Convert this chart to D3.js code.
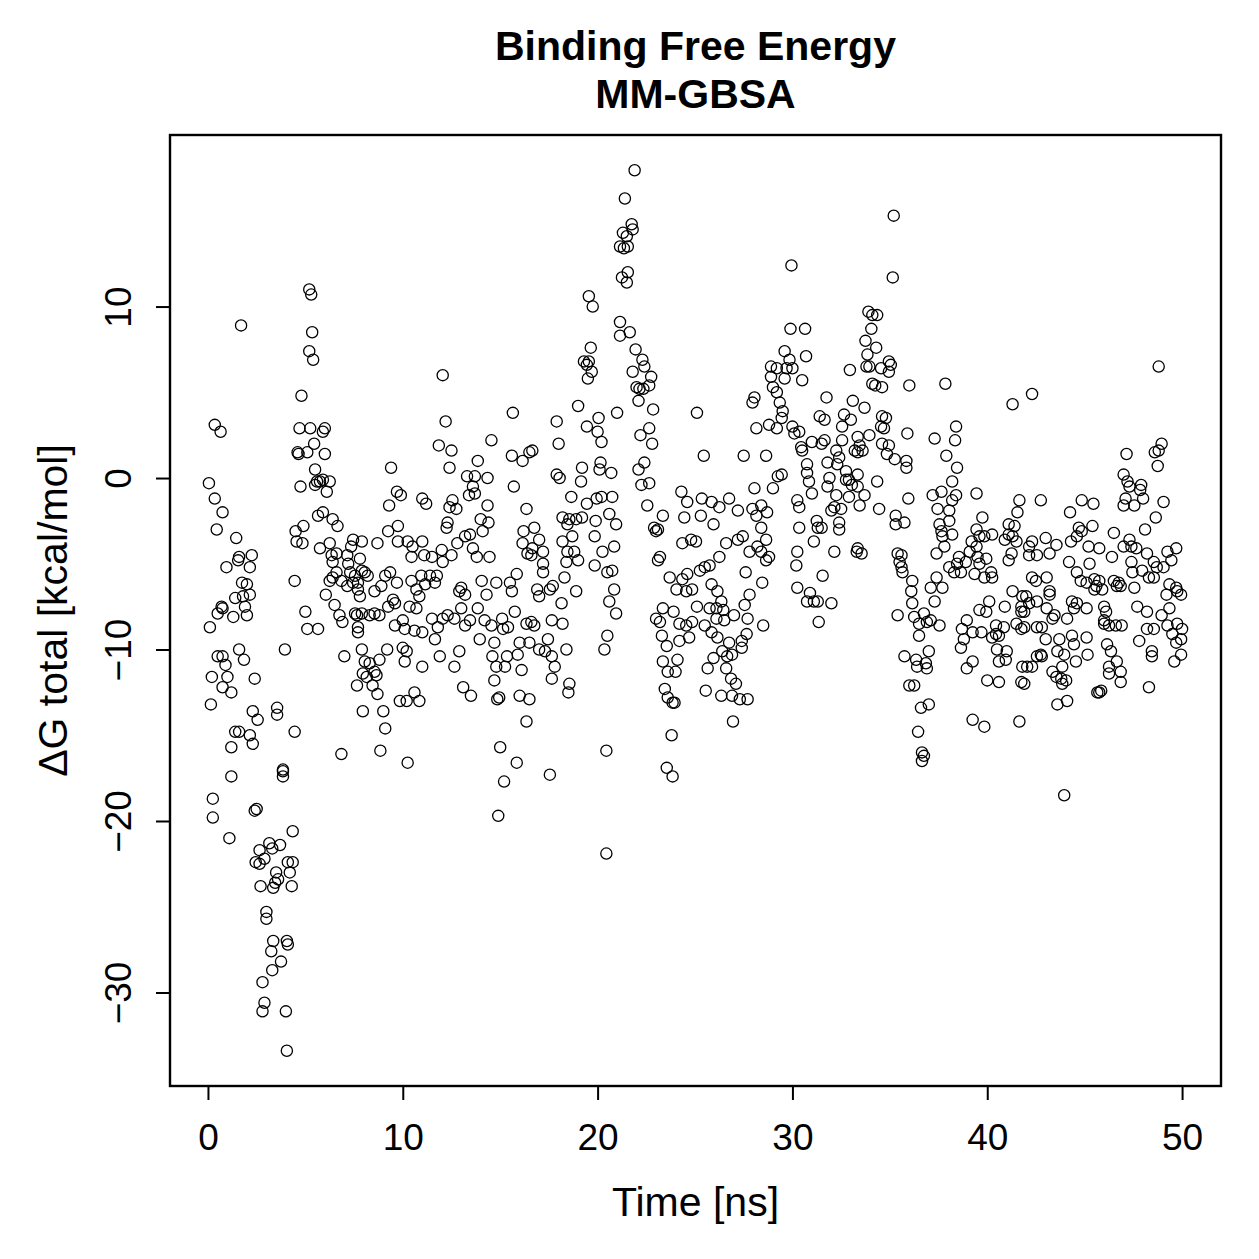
<!DOCTYPE html>
<html>
<head>
<meta charset="utf-8">
<script src="https://cdn.jsdelivr.net/npm/d3@7"></script>
<style>
  body { margin: 0; background: #fff; }
  text { font-family: "Liberation Sans", Arial, sans-serif; fill: #000; }
</style>
</head>
<body>
<div id="chart"></div>
<script>
// [time (ns), dG total (kcal/mol)], in blocks of time
var frames0to8 = [[0.05,-0.3],[0.1,-8.7],[0.15,-13.2],[0.2,-11.6],[0.25,-18.7],[0.25,-19.8],[0.35,3.1],[0.35,-1.2],[0.45,-3.0],[0.5,-7.9],[0.5,-10.4],[0.65,2.7],[0.7,-7.5],[0.75,-2.0],[0.75,-7.6],[0.75,-10.4],[0.75,-12.2],[0.9,-10.9],[0.95,-5.2],[1.0,-11.6],[1.1,-21.0],[1.2,-12.5],[1.2,-15.7],[1.2,-17.4],[1.3,-8.1],[1.4,-7.0],[1.4,-14.8],[1.45,-3.5],[1.55,-4.8],[1.6,-4.6],[1.6,-10.0],[1.6,-14.8],[1.7,8.9],[1.75,-6.1],[1.8,-6.9],[1.85,-10.6],[1.9,-7.5],[2.0,-6.2],[2.0,-8.0],[2.15,-5.2],[2.15,-6.8],[2.15,-15.0],[2.25,-4.5],[2.3,-13.6],[2.3,-15.5],[2.4,-11.7],[2.4,-19.4],[2.45,-22.4],[2.5,-19.3],[2.55,-14.1],[2.65,-21.7],[2.65,-22.5],[2.7,-23.8],[2.8,-29.4],[2.8,-31.1],[2.9,-22.2],[2.9,-30.6],[3.0,-25.3],[3.0,-25.7],[3.15,-21.3],[3.25,-27.6],[3.3,-21.6],[3.3,-28.7],[3.35,-23.9],[3.35,-27.0],[3.45,-23.6],[3.5,-23.0],[3.55,-13.4],[3.55,-13.8],[3.6,-23.4],[3.7,-21.4],[3.75,-28.2],[3.85,-17.0],[3.85,-17.1],[3.85,-17.4],[3.95,-10.0],[4.0,-31.1],[4.05,-27.0],[4.05,-33.4],[4.1,-27.2],[4.1,-22.4],[4.2,-23.0],[4.3,-23.8],[4.35,-20.6],[4.35,-22.4],[4.45,-6.0],[4.45,-14.8],[4.5,-3.1],[4.55,-3.7],[4.6,1.5],[4.65,1.4],[4.7,2.9],[4.75,-0.5],[4.8,4.8],[4.85,-3.8],[4.9,-2.8],[5.0,-7.8],[5.1,1.5],[5.1,-8.8],[5.2,11.0],[5.2,7.4],[5.25,2.9],[5.3,10.7],[5.35,8.5],[5.4,6.9],[5.45,2.0],[5.5,0.5],[5.5,-0.4],[5.6,-0.2],[5.65,-2.2],[5.65,-8.8],[5.75,-0.2],[5.75,-4.1],[5.9,-0.1],[5.9,2.7],[5.9,-2.0],[6.0,2.9],[6.0,1.4],[6.05,-6.8],[6.1,-0.8],[6.25,-0.2],[6.25,-3.8],[6.25,-6.0],[6.35,-4.5],[6.4,-2.4],[6.4,-4.9],[6.4,-5.8],[6.5,-7.4],[6.6,-4.4],[6.6,-5.5],[6.65,-2.8],[6.75,-8.0],[6.85,-6.0],[6.85,-16.1],[6.9,-8.4],[7.0,-10.4],[7.15,-4.5],[7.15,-6.3],[7.2,-5.0],[7.3,-5.5],[7.35,-4.0],[7.45,-3.6],[7.45,-6.1],[7.55,-5.7],[7.55,-7.9],[7.65,-8.0],[7.65,-12.1],[7.7,-6.5],[7.7,-6.1],[7.7,-8.7],[7.7,-9.0],[7.8,-4.7],[7.8,-6.9],[7.9,-3.7],[7.9,-5.4],[7.9,-7.9],[7.9,-10.0],[7.95,-11.4],[7.95,-13.6]];

var frames8to16 = [[8.05,-10.7],[8.05,-5.5],[8.2,-5.7],[12.05,6.0],[12.2,3.3],[11.85,1.9],[12.5,1.6],[12.4,0.6],[15.65,3.8],[14.55,2.2],[15.6,1.3],[16.15,1.0],[16.5,1.5],[9.4,0.6],[13.85,1.0],[13.3,0.1],[13.7,0.1],[14.35,0.0],[13.6,-0.5],[13.4,-1.0],[13.7,-0.9],[15.7,-0.5],[9.7,-0.8],[9.9,-1.0],[9.3,-1.6],[11.0,-1.2],[11.2,-1.5],[12.55,-1.3],[12.4,-1.7],[12.75,-1.8],[14.35,-1.6],[16.35,-1.8],[12.3,-2.6],[12.25,-2.9],[14.0,-2.4],[14.4,-2.6],[14.1,-3.1],[13.45,-3.3],[13.2,-3.4],[16.2,-3.1],[16.15,-3.8],[9.75,-2.8],[9.25,-3.1],[9.75,-3.7],[8.7,-3.8],[10.25,-3.7],[10.5,-4.0],[11.0,-3.7],[12.0,-4.2],[12.8,-3.8],[13.6,-4.1],[10.45,-4.6],[11.1,-4.5],[11.5,-4.6],[12.5,-4.5],[13.8,-4.6],[14.45,-4.6],[16.4,-4.4],[12.05,-4.9],[9.1,-5.7],[9.35,-5.5],[9.7,-6.1],[8.9,-6.3],[8.55,-6.6],[10.45,-6.0],[10.95,-5.7],[11.4,-5.7],[11.75,-5.7],[11.65,-6.1],[11.15,-6.2],[10.7,-6.5],[10.85,-6.9],[9.5,-7.1],[9.6,-7.3],[9.25,-7.5],[10.35,-7.5],[10.7,-7.6],[13.0,-6.4],[12.9,-6.6],[13.2,-6.8],[14.05,-6.0],[14.3,-6.8],[14.8,-6.1],[15.5,-6.1],[15.6,-6.6],[15.85,-5.6],[8.3,-8.0],[8.55,-7.9],[8.8,-8.0],[9.6,-8.6],[10.0,-8.3],[10.1,-8.8],[10.6,-8.9],[11.0,-9.0],[11.5,-8.2],[11.8,-8.7],[12.05,-8.2],[12.3,-8.0],[12.65,-8.2],[13.0,-7.6],[13.2,-8.6],[13.45,-8.3],[13.85,-7.6],[14.2,-8.3],[14.55,-8.6],[15.1,-8.2],[15.15,-8.8],[15.4,-8.7],[15.75,-7.8],[16.35,-8.5],[11.65,-9.4],[13.95,-9.4],[14.7,-9.6],[16.0,-9.6],[9.2,-10.0],[10.0,-9.9],[10.2,-10.1],[10.1,-10.7],[8.8,-10.6],[8.3,-10.8],[11.9,-10.4],[12.9,-10.1],[12.65,-11.0],[11.0,-11.0],[14.6,-10.4],[15.35,-10.4],[15.9,-10.3],[14.8,-11.0],[15.25,-11.0],[16.1,-11.2],[8.15,-11.6],[8.55,-11.3],[8.65,-11.5],[8.45,-12.1],[8.7,-12.6],[14.7,-11.8],[13.1,-12.2],[13.5,-12.7],[10.6,-12.5],[9.85,-13.0],[10.2,-13.0],[10.85,-13.0],[14.85,-12.9],[14.95,-12.8],[16.0,-12.7],[9.0,-13.6],[16.35,-14.2],[9.1,-14.6],[8.85,-15.9],[10.25,-16.6],[15.0,-15.7],[15.85,-16.6],[15.2,-17.7],[14.9,-19.7]];

var frames16to25 = [[21.9,17.95],[21.4,16.3],[21.75,14.8],[21.8,14.5],[21.3,14.3],[21.5,14.1],[21.15,13.5],[21.55,13.5],[21.35,13.4],[21.55,12.0],[21.25,11.7],[21.5,11.4],[19.55,10.6],[19.75,10.0],[21.15,9.1],[21.65,8.5],[21.15,8.3],[19.65,7.6],[19.3,6.8],[19.45,6.6],[19.7,6.2],[19.5,5.8],[19.55,6.8],[21.95,7.5],[22.3,6.9],[22.4,6.5],[21.8,6.2],[22.75,5.9],[22.65,5.4],[22.0,5.3],[22.15,5.2],[22.35,5.2],[22.1,4.5],[22.85,4.0],[19.0,4.2],[21.0,3.8],[17.9,3.3],[20.05,3.5],[19.45,3.0],[20.0,2.7],[20.2,2.1],[22.65,2.9],[22.2,2.5],[22.8,2.0],[18.0,2.0],[16.65,1.6],[20.15,0.9],[20.1,0.5],[20.7,0.3],[19.2,0.6],[19.15,-0.2],[17.9,0.2],[18.05,0.0],[22.4,0.9],[22.1,0.5],[22.25,-0.4],[22.65,-0.3],[18.65,-1.1],[19.45,-1.5],[19.95,-1.2],[20.2,-1.1],[20.75,-1.1],[22.55,-1.6],[24.3,-0.8],[24.6,-1.4],[24.45,-2.3],[23.35,-2.2],[18.2,-2.3],[18.55,-2.4],[18.9,-2.4],[19.2,-2.3],[18.45,-2.7],[19.9,-2.5],[20.6,-2.1],[20.95,-2.7],[22.9,-2.9],[23.0,-3.1],[23.1,-3.0],[16.75,-2.9],[17.0,-3.6],[18.2,-3.7],[18.7,-3.4],[19.85,-3.4],[24.35,-3.8],[24.8,-3.6],[16.65,-4.1],[17.2,-4.3],[18.45,-4.3],[18.8,-4.3],[20.25,-4.3],[20.85,-4.0],[23.2,-4.6],[16.6,-4.5],[19.0,-4.8],[18.4,-4.9],[19.85,-5.1],[20.5,-5.5],[20.75,-5.4],[17.2,-5.0],[17.2,-5.5],[18.3,-5.8],[16.9,-6.5],[17.0,-6.9],[17.55,-6.5],[17.7,-6.3],[18.9,-6.6],[20.85,-6.5],[20.6,-7.2],[18.15,-7.3],[20.95,-7.9],[16.6,-8.4],[16.75,-8.6],[17.65,-8.3],[18.2,-8.5],[20.5,-9.2],[20.35,-10.0],[16.5,-9.6],[17.45,-9.4],[17.0,-10.0],[17.3,-10.1],[18.4,-10.0],[17.65,-10.4],[17.8,-11.0],[17.65,-11.7],[18.55,-12.0],[18.5,-12.5],[16.5,-12.9],[17.55,-17.3],[20.45,-15.9],[20.45,-21.9],[23.1,-4.8],[23.7,-5.8],[24.35,-5.9],[24.6,-5.6],[24.05,-6.5],[24.55,-6.6],[24.85,-6.5],[23.35,-7.6],[23.9,-7.8],[23.0,-8.2],[23.2,-8.4],[24.2,-8.5],[24.55,-8.6],[24.85,-8.4],[23.3,-9.2],[23.55,-9.8],[24.2,-9.5],[24.7,-9.3],[23.35,-10.7],[24.1,-10.6],[23.6,-11.3],[24.0,-11.3],[23.45,-12.3],[23.6,-12.8],[23.85,-13.1],[23.95,-13.1],[23.8,-15.0],[23.55,-16.9],[23.85,-17.4]];

var frames25to33 = [[29.95,12.4],[29.9,8.7],[30.65,8.7],[29.6,7.4],[29.85,6.9],[30.7,7.1],[28.9,6.5],[29.2,6.4],[29.7,6.4],[30.0,6.4],[28.9,5.9],[29.6,5.8],[30.5,5.7],[29.0,5.3],[29.2,5.0],[29.35,4.4],[28.05,4.7],[27.95,4.4],[32.95,6.3],[31.75,4.7],[25.1,3.8],[29.5,3.9],[29.45,3.5],[31.4,3.6],[31.65,3.4],[33.1,4.5],[32.65,3.7],[33.0,3.4],[28.15,2.9],[28.8,3.1],[29.2,2.9],[30.0,3.0],[30.35,2.7],[30.1,2.6],[32.55,3.0],[33.35,2.4],[32.55,2.2],[31.0,2.1],[31.5,2.0],[31.65,2.2],[30.45,1.8],[30.5,1.6],[32.25,1.6],[32.4,1.2],[33.2,1.6],[25.45,1.3],[27.5,1.3],[28.65,1.3],[30.75,0.8],[31.8,0.9],[32.3,0.8],[32.75,0.4],[30.75,0.3],[30.85,-0.2],[31.0,-0.9],[31.9,0.0],[31.8,-0.5],[32.75,-0.1],[32.9,-1.1],[33.35,-0.5],[32.25,-1.0],[29.45,0.2],[29.25,0.1],[29.0,-0.6],[28.05,-0.6],[25.35,-1.2],[25.85,-1.4],[26.25,-1.7],[26.75,-1.2],[27.2,-1.9],[27.95,-1.8],[28.15,-2.2],[28.4,-1.6],[28.7,-2.0],[25.3,-2.2],[25.95,-2.7],[30.25,-1.3],[30.35,-1.7],[30.35,-2.9],[31.25,-2.5],[31.3,-2.9],[31.5,-2.9],[32.0,-1.9],[32.15,-1.7],[32.5,-1.8],[32.4,-2.6],[32.4,-3.0],[31.1,-3.7],[30.25,-4.3],[32.15,-4.3],[25.05,-3.7],[26.6,-3.8],[27.2,-3.6],[27.45,-3.4],[28.4,-2.9],[28.65,-3.6],[28.2,-4.0],[28.4,-4.3],[28.8,-4.6],[26.25,-4.6],[33.3,-4.3],[27.8,-4.3],[28.65,-4.8],[30.2,-5.1],[25.75,-5.1],[25.5,-5.2],[25.25,-5.4],[27.6,-5.5],[28.45,-6.1],[31.55,-5.7],[25.85,-6.2],[26.15,-6.6],[30.25,-6.4],[30.9,-6.7],[30.75,-7.2],[31.1,-7.2],[31.3,-7.2],[32.0,-7.3],[27.8,-6.8],[26.35,-7.2],[27.55,-7.4],[25.1,-7.5],[25.75,-7.6],[26.1,-7.6],[26.45,-7.7],[25.5,-8.6],[26.1,-8.2],[26.5,-8.3],[27.0,-8.0],[27.7,-8.2],[28.5,-8.6],[31.35,-8.4],[25.85,-9.0],[26.15,-9.3],[27.65,-9.1],[27.4,-9.5],[26.75,-9.6],[27.4,-9.9],[26.4,-10.1],[26.9,-10.3],[25.95,-10.5],[26.65,-10.4],[25.65,-11.1],[26.6,-11.1],[26.85,-11.7],[27.1,-12.0],[25.55,-12.4],[26.35,-12.7],[26.9,-12.7],[27.3,-12.9],[27.7,-12.9],[26.95,-14.2]];

var frames33to42 = [[35.2,15.3],[35.15,11.7],[33.9,9.7],[34.1,9.5],[34.35,9.5],[34.05,8.7],[33.75,8.0],[34.3,7.6],[33.85,7.2],[33.8,6.5],[33.95,6.5],[34.55,6.4],[34.95,6.8],[35.05,6.6],[34.95,6.2],[34.1,5.5],[34.25,5.4],[34.6,5.3],[36.0,5.4],[37.85,5.5],[41.3,4.3],[33.7,4.1],[34.6,3.6],[34.8,3.5],[34.55,3.0],[34.7,2.9],[33.95,2.5],[35.9,2.6],[38.4,3.0],[37.3,2.3],[38.35,2.2],[33.45,1.9],[33.35,1.5],[33.6,1.6],[34.6,2.0],[34.95,1.9],[34.85,1.4],[35.25,1.1],[35.85,1.0],[35.85,0.6],[37.9,1.3],[38.45,0.6],[33.35,0.2],[32.9,-0.1],[33.05,-0.4],[33.7,-1.0],[33.45,-1.6],[34.35,-0.2],[35.95,-1.2],[34.45,-1.8],[35.3,-2.2],[35.3,-2.7],[35.75,-2.6],[37.2,-1.0],[37.65,-0.8],[38.2,-0.2],[38.2,-1.3],[38.05,-1.9],[38.4,-1.0],[37.45,-1.8],[37.55,-2.7],[37.65,-3.1],[37.7,-3.4],[38.05,-2.5],[38.2,-3.3],[39.45,-0.9],[39.75,-2.3],[39.45,-3.0],[39.6,-3.4],[39.2,-3.7],[39.45,-4.0],[39.1,-4.3],[39.85,-3.4],[40.25,-3.3],[40.9,-3.6],[41.1,-2.7],[41.4,-2.8],[41.55,-2.0],[41.65,-1.3],[41.1,-3.3],[41.3,-3.4],[41.5,-3.7],[33.35,-4.1],[33.55,-4.4],[35.4,-4.4],[35.6,-4.5],[37.8,-4.0],[37.4,-4.4],[38.55,-4.6],[39.5,-4.6],[41.25,-4.4],[35.5,-4.9],[35.6,-5.2],[35.65,-5.5],[39.95,-4.7],[38.05,-5.2],[38.45,-5.0],[38.9,-4.9],[38.65,-5.5],[38.3,-5.5],[39.35,-5.6],[39.6,-5.0],[39.85,-5.8],[40.2,-5.5],[40.25,-5.8],[41.1,-4.8],[36.15,-6.0],[36.1,-6.6],[36.15,-7.3],[37.4,-5.8],[37.1,-6.4],[37.7,-6.4],[37.3,-7.2],[35.4,-8.0],[36.25,-8.1],[36.75,-7.9],[37.1,-8.3],[37.55,-8.6],[36.9,-8.4],[36.5,-8.5],[36.5,-9.2],[41.3,-6.6],[41.8,-6.9],[40.9,-7.5],[40.1,-7.2],[39.6,-7.7],[39.95,-7.8],[41.75,-7.8],[38.95,-8.3],[38.7,-8.8],[39.25,-9.0],[39.7,-9.0],[38.8,-9.4],[38.65,-9.9],[40.45,-8.6],[40.85,-8.7],[40.45,-9.1],[40.6,-9.2],[40.25,-9.3],[41.5,-8.5],[41.75,-8.8],[40.5,-10.0],[41.0,-10.1],[40.6,-10.7],[40.95,-10.6],[41.8,-11.0],[35.75,-10.4],[36.35,-10.6],[36.4,-11.0],[37.0,-10.1],[36.85,-10.8],[36.9,-11.1],[39.25,-10.7],[38.95,-11.1],[40.0,-11.8],[40.6,-11.9],[41.75,-11.9],[36.0,-12.1],[36.25,-12.1],[36.6,-13.4],[37.0,-13.2],[39.25,-14.1],[39.85,-14.5],[41.65,-14.2],[36.45,-14.8],[36.65,-16.0],[36.75,-16.2],[36.65,-16.5]];

var frames42to50 = [[48.8,6.5],[42.3,4.9],[47.15,1.4],[48.6,1.5],[48.8,1.6],[48.95,2.0],[48.75,0.7],[47.0,0.2],[47.2,-0.2],[47.3,-0.5],[47.9,-0.4],[47.85,-0.7],[47.1,-1.2],[48.0,-1.2],[47.0,-1.6],[47.55,-1.6],[49.05,-1.4],[48.65,-2.3],[48.1,-3.0],[42.75,-1.3],[44.85,-1.3],[45.45,-1.5],[44.25,-2.0],[44.7,-2.9],[45.4,-2.8],[44.85,-3.1],[46.5,-3.2],[47.3,-3.6],[42.3,-3.7],[43.0,-3.5],[43.55,-3.9],[42.15,-4.0],[44.3,-3.7],[44.6,-3.4],[45.2,-4.0],[45.75,-4.1],[47.0,-4.0],[47.65,-4.1],[48.2,-4.4],[49.25,-4.3],[49.7,-4.1],[46.4,-4.6],[47.4,-4.0],[49.45,-4.8],[42.15,-4.5],[42.55,-4.5],[43.2,-4.4],[44.2,-4.9],[45.25,-5.0],[47.4,-4.9],[48.55,-4.9],[48.7,-5.2],[49.05,-5.2],[47.45,-5.5],[47.95,-5.4],[48.3,-5.8],[48.55,-5.8],[44.6,-5.5],[44.8,-6.0],[45.1,-6.1],[45.5,-5.9],[45.75,-6.0],[45.6,-6.3],[45.9,-6.5],[45.5,-6.5],[46.5,-6.0],[46.75,-6.1],[46.85,-6.3],[46.65,-6.3],[47.55,-6.4],[49.35,-6.2],[49.7,-6.4],[49.95,-6.8],[49.75,-6.6],[49.2,-6.8],[42.3,-5.8],[42.5,-6.0],[43.05,-5.8],[43.2,-6.6],[43.2,-6.8],[42.0,-6.9],[41.75,-7.5],[42.15,-7.3],[42.55,-7.2],[43.05,-7.6],[41.9,-7.8],[44.35,-7.2],[44.6,-7.3],[44.45,-7.6],[45.1,-7.6],[46.0,-7.5],[46.1,-7.8],[47.7,-7.5],[48.2,-7.8],[48.95,-8.0],[49.35,-7.6],[44.1,-8.2],[43.35,-8.2],[43.45,-8.0],[41.9,-8.7],[42.55,-8.7],[42.8,-8.7],[46.0,-8.5],[46.25,-8.6],[46.6,-8.6],[46.9,-8.6],[46.0,-8.3],[48.2,-8.8],[48.55,-8.8],[49.25,-8.6],[49.75,-8.5],[50.0,-8.8],[49.5,-9.1],[49.95,-9.4],[49.7,-9.6],[47.8,-9.5],[43.0,-9.4],[43.7,-9.4],[44.35,-9.2],[45.1,-9.3],[44.45,-9.7],[46.15,-9.7],[46.35,-10.1],[43.6,-10.1],[43.95,-10.3],[42.75,-10.3],[42.8,-10.4],[42.55,-10.4],[45.15,-10.3],[44.55,-10.7],[48.45,-10.1],[48.45,-10.4],[49.95,-10.3],[49.6,-10.7],[46.65,-10.7],[42.05,-11.0],[42.3,-11.0],[46.25,-11.0],[46.85,-11.3],[46.25,-11.4],[43.85,-11.0],[43.35,-11.3],[43.55,-11.6],[43.8,-11.7],[44.05,-11.8],[43.85,-12.0],[46.85,-11.9],[41.9,-12.0],[45.65,-12.5],[45.85,-12.4],[45.75,-12.5],[48.3,-12.2],[44.1,-13.0],[43.6,-13.2],[43.95,-18.5]];

var xTicks = [0, 10, 20, 30, 40, 50];
var yTicks = [-30, -20, -10, 0, 10];
var titleLines = ["Binding Free Energy", "MM-GBSA"];
var xLabel = "Time [ns]";
var yLabel = "\u0394G total [kcal/mol]";

var margin = {top: 135, right: 38, bottom: 173, left: 170},
    width = 1259 - margin.left - margin.right,
    height = 1259 - margin.top - margin.bottom;

var data = [].concat(frames0to8, frames8to16, frames16to25, frames25to33, frames33to42, frames42to50);

// R style axis range: data extent stretched by 4% on each side
function padded(ext) {
  var r = ext[1] - ext[0];
  return [ext[0] - 0.04 * r, ext[1] + 0.04 * r];
}

var x = d3.scaleLinear()
    .domain(padded(d3.extent(data, d => d[0])))
    .range([0, width]);
var y = d3.scaleLinear()
    .domain(padded(d3.extent(data, d => d[1])))
    .range([height, 0]);

var svg = d3.select("#chart")
  .append("svg")
    .attr("width", width + margin.left + margin.right)
    .attr("height", height + margin.top + margin.bottom)
    .style("display", "block")
    .style("background", "#fff");

var g = svg.append("g")
    .attr("transform", "translate(" + margin.left + "," + margin.top + ")");

// points
g.selectAll("circle")
  .data(data)
  .enter()
  .append("circle")
    .attr("cx", d => x(d[0]))
    .attr("cy", d => y(d[1]))
    .attr("r", 5.6)
    .style("fill", "none")
    .style("stroke", "#000")
    .style("stroke-width", 1.3);

// axes
var xAxis = g.append("g")
    .attr("transform", "translate(0," + height + ")")
    .call(d3.axisBottom(x).tickValues(xTicks).tickSize(14).tickPadding(24).tickFormat(d3.format("d")));
var yAxis = g.append("g")
    .call(d3.axisLeft(y).tickValues(yTicks).tickSize(14).tickFormat(d3.format("d")));

[xAxis, yAxis].forEach(function(a) {
  a.select(".domain").remove();
  a.selectAll(".tick line").style("stroke", "#000").style("stroke-width", 2);
  a.selectAll(".tick text").style("font-size", "37px").attr("font-family", null);
});
xAxis.selectAll(".tick text").attr("dy", "0.71em");

yAxis.selectAll(".tick text")
    .attr("x", null).attr("dy", null)
    .attr("text-anchor", "middle")
    .attr("transform", "translate(-39,0) rotate(-90)");

// box
g.append("rect")
    .attr("width", width)
    .attr("height", height)
    .style("fill", "none")
    .style("stroke", "#000")
    .style("stroke-width", 2.4);

// labels
svg.append("text")
    .attr("x", margin.left + width / 2)
    .attr("y", 1216)
    .attr("text-anchor", "middle")
    .style("font-size", "41px")
    .text(xLabel);

svg.append("text")
    .attr("transform", "translate(67," + (margin.top + height / 2) + ") rotate(-90)")
    .attr("text-anchor", "middle")
    .style("font-size", "41px")
    .text(yLabel);

svg.selectAll(".title")
  .data(titleLines)
  .enter()
  .append("text")
    .attr("class", "title")
    .attr("x", margin.left + width / 2)
    .attr("y", (d, i) => 60 + i * 48)
    .attr("text-anchor", "middle")
    .style("font-size", "41px")
    .style("font-weight", "bold")
    .text(d => d);
</script>
</body>
</html>
